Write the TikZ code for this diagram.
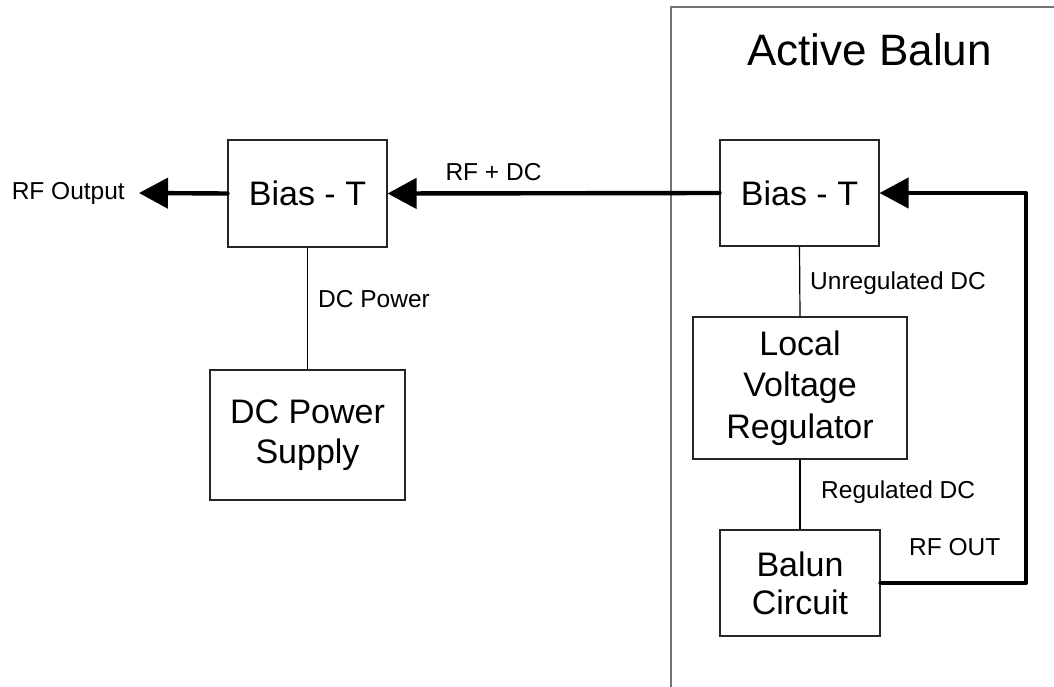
\documentclass[tikz,border=0pt]{standalone}
\usepackage{fontspec}
\setmainfont{Liberation Sans}
\usetikzlibrary{arrows.meta}
\tikzset{
  block/.style={draw=black!85, line width=1.1pt, fill=white, align=center, inner sep=0pt,
    font=\fontsize{34}{40}\selectfont},
  wire/.style={draw=black, line width=1.2pt},
  rfline/.style={draw=black, line width=4.4pt, line cap=round, line join=round,
    -{Triangle[length=29pt,width=30pt]}},
  lbl/.style={font=\fontsize{24.5}{28}\selectfont, inner sep=0pt},
}
\begin{document}
\begin{tikzpicture}[x=1pt,y=-1pt]
\useasboundingbox (0,0) rectangle (1054,687);
% enclosure of the active balun
\draw[draw=black!55, line width=1.2pt] (671,687) -- (671,7) -- (1054,7);
\node[font=\fontsize{44}{50}\selectfont, inner sep=0pt] (title) at (869.5,50) {Active Balun};

% blocks
\node[block, minimum width=159pt, minimum height=107pt] (biasL) at (307.5,193.5) {Bias - T};
\node[block, minimum width=195pt, minimum height=130pt] (psu) at (307.5,435) {DC Power\\Supply};
\node[block, minimum width=159pt, minimum height=106pt] (biasR) at (799.5,193) {Bias - T};
\node[block, minimum width=214pt, minimum height=142pt, font=\fontsize{34}{41.5}\selectfont] (reg) at (800,388) {Local\\Voltage\\Regulator};
\node[block, minimum width=160pt, minimum height=106pt, font=\fontsize{34}{38}\selectfont] (balun) at (800,583) {Balun\\Circuit};

% DC connections
\draw[wire] (biasL.south) -- (psu.north);
\draw[wire] (biasR.south) -- (reg.north);
\draw[wire] (reg.south) -- (balun.north);

% RF path
\coordinate (rfout) at (139,193);
\coordinate (c1) at (1026,583);
\coordinate (c2) at (1026,193);
\draw[rfline] (biasL.west) -- (rfout);
\draw[rfline] (biasR.west) -- (biasL.east);
\draw[rfline] (balun.east) -- (c1) -- (c2) -- (biasR.east);

% labels
\node[lbl, anchor=east] (lout) at (125,193) {RF Output};
\node[lbl] (lrfdc) at (493.5,172) {RF + DC};
\node[lbl, anchor=west] (ldcp) at (318,299) {DC Power};
\node[lbl, anchor=west] (lunreg) at (810,283) {Unregulated DC};
\node[lbl, anchor=west] (lreg) at (821,492) {Regulated DC};
\node[lbl, anchor=west] (lrfo) at (909,547) {RF OUT};
\end{tikzpicture}
\end{document}
